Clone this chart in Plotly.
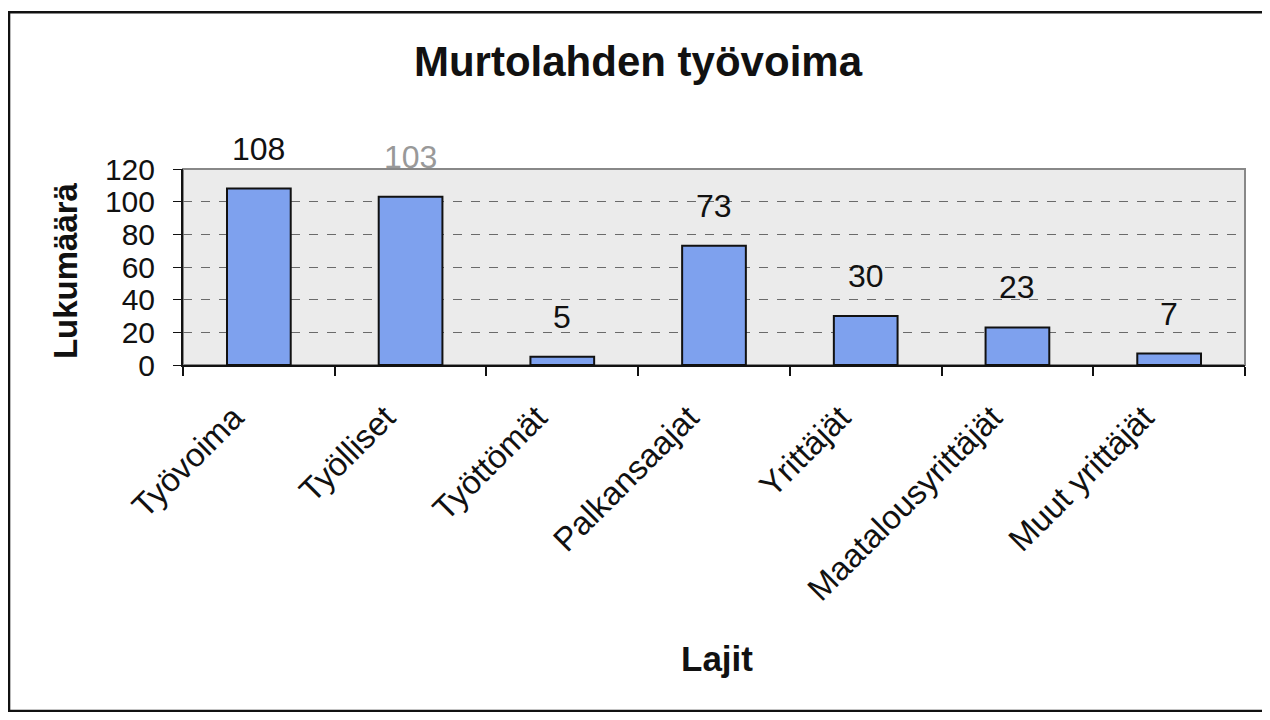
import plotly.graph_objects as go

categories = ["Työvoima", "Työlliset", "Työttömät", "Palkansaajat", "Yrittäjät",
              "Maatalousyrittäjät", "Muut yrittäjät"]
values = [108, 103, 5, 73, 30, 23, 7]
label_colors = ["#111111", "#999999", "#111111", "#111111", "#111111", "#111111", "#111111"]
y_ticks = [0, 20, 40, 60, 80, 100, 120]

FONT = "Liberation Sans, Arial, sans-serif"

fig = go.Figure()
fig.add_trace(go.Bar(
    x=categories, y=values, width=0.42,
    marker=dict(color="#7ea1ee", line=dict(color="#111111", width=2)),
    showlegend=False, hoverinfo="x+y",
))

for c, v, col in zip(categories, values, label_colors):
    fig.add_annotation(x=c, y=v, text=str(v), showarrow=False, yanchor="bottom",
                       yshift=20, font=dict(family=FONT, size=32, color=col))

# y axis title
fig.add_annotation(xref="paper", yref="paper", x=-0.110, y=0.48, text="<b>Lukumäärä</b>",
                   textangle=-90, showarrow=False, xanchor="center", yanchor="middle",
                   font=dict(family=FONT, size=33, color="#111111"))
# x axis title
fig.add_annotation(xref="paper", yref="paper", x=0.503, y=-1.495, text="<b>Lajit</b>",
                   showarrow=False, xanchor="center", yanchor="middle",
                   font=dict(family=FONT, size=35, color="#111111"))

# outer frame
fig.add_shape(type="rect", xref="paper", yref="paper",
              x0=-0.1638, x1=1.0198, y0=-1.765, y1=1.80,
              line=dict(color="#111111", width=2.5), layer="below")
# plot area border (top/right gray)
fig.add_shape(type="rect", xref="paper", yref="paper", x0=0, x1=1, y0=0, y1=1,
              line=dict(color="#888888", width=2), layer="below")

fig.update_layout(
    width=1260, height=704,
    margin=dict(l=175, r=23, t=161, b=347),
    paper_bgcolor="white", plot_bgcolor="#ebebeb",
    title=dict(text="<b>Murtolahden työvoima</b>", xref="container", x=0.5, xanchor="center",
               yref="container", y=1 - 53 / 704, yanchor="middle",
               font=dict(family=FONT, size=42, color="#111111")),
    font=dict(family=FONT, color="#111111"),
    bargap=0.58,
)
fig.update_xaxes(
    type="category", tickangle=-45, tickson="boundaries", ticks="outside", ticklen=9,
    tickcolor="#111111", tickwidth=1.5,
    showline=True, linecolor="#111111", linewidth=2,
    ticklabelstandoff=18, ticklabelshift=-25,
    tickfont=dict(family=FONT, size=33, color="#111111"), showgrid=False,
)
fig.update_yaxes(
    range=[0, 120], tickvals=y_ticks, ticks="outside", ticklen=8, tickcolor="#111111",
    showline=True, linecolor="#111111", linewidth=2, ticklabelstandoff=12,
    tickfont=dict(family=FONT, size=30, color="#111111"),
    showgrid=True, gridcolor="#6a6a6a", gridwidth=1, griddash="dash", zeroline=False,
)

fig.write_html("out.html")
